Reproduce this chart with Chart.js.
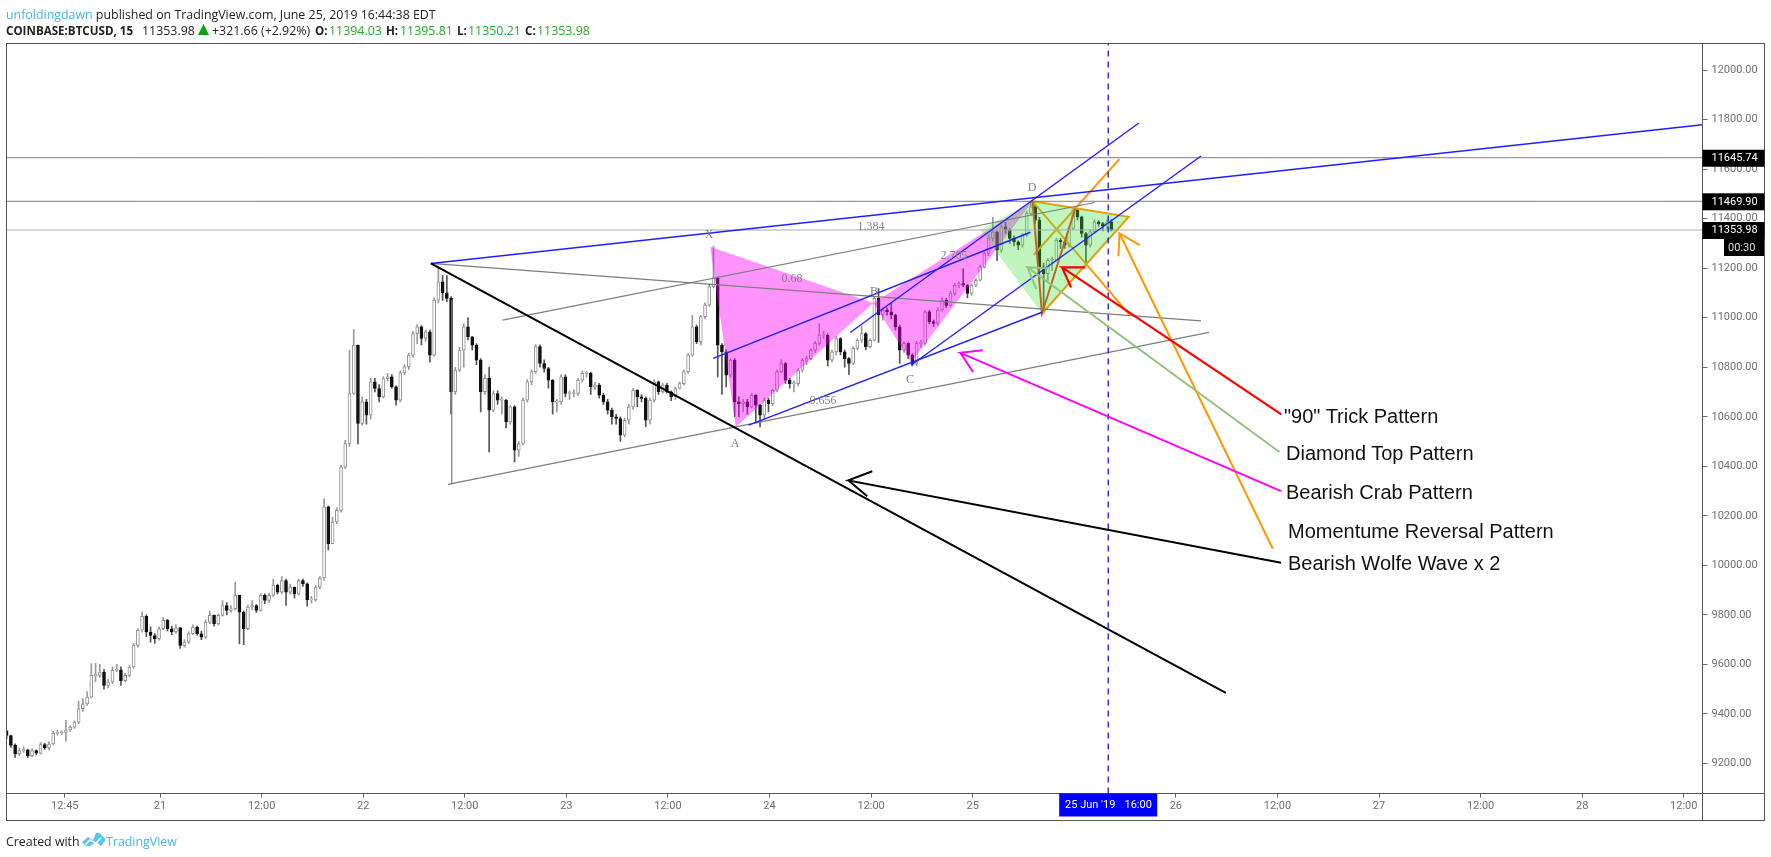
<!DOCTYPE html>
<html><head><meta charset="utf-8">
<script src="https://cdn.jsdelivr.net/npm/chart.js@4"></script>
<style>
html,body{margin:0;padding:0;background:#fff;width:1771px;height:857px;overflow:hidden}
#wrap{position:relative;width:1771px;height:857px}
canvas{position:absolute;left:0;top:0}
.t{position:absolute;white-space:pre;line-height:1;z-index:2}
.h{font:12.4px "Open Sans",sans-serif;color:#222}
.b{font-weight:700;font-size:11.6px}
.g{color:#22ab22}
.s{font:12px "Liberation Serif",serif;color:#808080;transform:translate(-50%,-50%)}
.p{font:20px "Liberation Sans",sans-serif;color:#111}
</style></head><body><div id="wrap">
<canvas id="c" width="1771" height="857"></canvas>
<div class="t h" style="left:6px;top:6px"><span style="color:#47b4e6">unfoldingdawn</span> published on TradingView.com, June 25, 2019 16:44:38 EDT</div>
<div class="t h b" style="left:6px;top:23px">COINBASE:BTCUSD, 15</div>
<div class="t h" style="left:142px;top:22px">11353.98</div>
<svg style="position:absolute;left:198px;top:24px;z-index:2" width="11" height="11"><polygon points="5.5,0 11,11 0,11" fill="#0aa50a"/></svg>
<div class="t h" style="left:212px;top:22px">+321.66 (+2.92%)</div>
<div class="t h b" style="left:315px;top:23px">O:</div><div class="t h g" style="left:329px;top:22px">11394.03</div>
<div class="t h b" style="left:386px;top:23px">H:</div><div class="t h g" style="left:400px;top:22px">11395.81</div>
<div class="t h b" style="left:457px;top:23px">L:</div><div class="t h g" style="left:468px;top:22px">11350.21</div>
<div class="t h b" style="left:525px;top:23px">C:</div><div class="t h g" style="left:537px;top:22px">11353.98</div>
<div class="t s" style="left:709px;top:234px">X</div>
<div class="t s" style="left:792px;top:278px">0.68</div>
<div class="t s" style="left:874px;top:291px">B</div>
<div class="t s" style="left:871px;top:226px">1.384</div>
<div class="t s" style="left:954px;top:255px">2.705</div>
<div class="t s" style="left:735px;top:443px">A</div>
<div class="t s" style="left:910px;top:379px">C</div>
<div class="t s" style="left:823px;top:400px">0.656</div>
<div class="t s" style="left:1032px;top:187px">D</div>
<div class="t p" style="left:1284px;top:405px">"90" Trick Pattern</div>
<div class="t p" style="left:1286px;top:442px">Diamond Top Pattern</div>
<div class="t p" style="left:1286px;top:481px">Bearish Crab Pattern</div>
<div class="t p" style="left:1288px;top:520px">Momentume Reversal Pattern</div>
<div class="t p" style="left:1288px;top:552px">Bearish Wolfe Wave x 2</div>
<div class="t h" style="left:6px;top:833px">Created with</div>
<svg style="position:absolute;left:82px;top:832px;z-index:2" width="24" height="15" viewBox="0 0 24 15"><path d="M0 10 L6 5 L11 8 L14 1 Q18 0 20 4 Q24 6 23 9 L19 14 L14 10 L8 14 L3 14 Z" fill="#5cc3ec"/><path d="M3 13 L8 8 L14 11 L19 6" stroke="#fff" stroke-width="1.6" fill="none"/></svg>
<div class="t h" style="left:106px;top:833px;color:#47b4e6">TradingView</div>
</div>
<script>
const firstOpen = 9330;
const closes = [
9313,9273,9239,9252,9255,9232,9252,9242,9277,9263,
9279,9322,9325,9326,9336,9347,9367,9421,9441,9468,
9556,9556,9569,9515,9529,9576,9578,9535,9556,9589,
9677,9738,9794,9731,9717,9704,9744,9778,9744,9731,
9748,9677,9690,9724,9751,9724,9710,9771,9798,9764,
9798,9838,9818,9825,9879,9811,9744,9832,9838,9818,
9879,9859,9879,9919,9892,9939,9892,9912,9885,9939,
9926,9861,9861,9912,9949,10236,10088,10175,10222,10397,
10492,10694,10889,10573,10660,10606,10741,10714,10680,10754,
10761,10721,10667,10777,10802,10849,10936,10963,10916,10943,
10849,11071,11145,11100,11078,10701,10788,10869,10963,10923,
10889,10829,10701,10755,10627,10694,10667,10667,10579,10640,
10465,10492,10667,10741,10782,10883,10815,10795,10748,10660,
10660,10761,10694,10694,10694,10748,10775,10775,10721,10728,
10687,10660,10627,10600,10593,10526,10586,10640,10707,10680,
10674,10586,10667,10741,10701,10728,10701,10680,10714,10734,
10782,10849,10963,10903,11004,11051,11125,11159,10889,10862,
10768,10829,10660,10653,10660,10640,10687,10647,10606,10667,
10653,10707,10782,10815,10748,10734,10734,10788,10829,10835,
10869,10896,10930,10930,10829,10862,10916,10862,10835,10815,
10876,10909,10936,10883,10909,11078,11011,11031,11024,11011,
10963,10869,10896,10849,10815,10896,10896,11024,10984,10977,
11031,11071,11050,11098,11131,11138,11131,11098,11131,11151,
11205,11259,11320,11347,11273,11367,11353,11320,11306,11293,
11333,11421,11448,11394,11205,11178,11232,11232,11313,11306,
11293,11360,11434,11407,11340,11293,11347,11387,11380,11370,11387,11353.98];
const highs = [
9335,9315,9280,9262,9268,9258,9260,9255,9285,9282,
9288,9330,9335,9332,9374,9352,9372,9452,9462,9490,
9603,9605,9600,9580,9540,9590,9600,9590,9565,9595,
9685,9745,9812,9800,9752,9725,9752,9790,9782,9755,
9760,9750,9700,9732,9760,9755,9735,9780,9815,9800,
9803,9858,9850,9838,9933,9880,9815,9840,9858,9842,
9885,9885,9888,9945,9925,9955,9945,9925,9912,9945,
9945,9930,9875,9918,9955,10270,10240,10195,10232,10405,
10505,10869,10952,10889,10680,10670,10755,10755,10730,10762,
10775,10770,10725,10785,10810,10856,10945,10972,10968,10950,
10950,11080,11199,11170,11170,11085,10800,10880,10975,11000,
10925,10895,10835,10770,10800,10705,10705,10680,10670,10645,
10645,10500,10675,10750,10790,10890,10890,10830,10800,10750,
10670,10770,10770,10705,10710,10755,10785,10782,10780,10740,
10735,10695,10670,10635,10610,10600,10595,10650,10715,10710,
10690,10680,10675,10750,10745,10735,10735,10705,10720,10740,
10790,10855,11010,10970,11010,11060,11135,11289,11165,10895,
10870,10835,10835,10680,10670,10670,10695,10690,10650,10675,
10675,10712,10790,10830,10820,10755,10745,10795,10835,10845,
10875,10905,10975,10945,10935,10870,10925,10920,10870,10840,
10882,10915,10965,10940,10915,11085,11118,11040,11040,11058,
11015,10970,10905,10900,10855,10905,10910,11030,11030,10990,
11040,11080,11078,11105,11140,11145,11198,11135,11138,11158,
11212,11265,11335,11405,11350,11375,11385,11360,11330,11310,
11340,11430,11468,11455,11405,11220,11240,11245,11320,11320,
11312,11368,11440,11438,11410,11345,11355,11395,11392,11385,11395,11395.81];
const lows = [
9300,9265,9225,9232,9245,9225,9228,9235,9238,9258,
9255,9275,9315,9318,9290,9330,9342,9360,9410,9435,
9465,9530,9548,9500,9505,9522,9570,9515,9530,9550,
9585,9670,9730,9712,9690,9685,9698,9740,9735,9720,
9725,9665,9670,9685,9720,9718,9700,9705,9765,9755,
9760,9795,9800,9810,9820,9683,9680,9740,9820,9810,
9815,9845,9850,9875,9885,9885,9838,9885,9868,9880,
9915,9835,9848,9855,9905,9940,10062,10090,10168,10215,
10390,10480,10690,10490,10565,10570,10590,10700,10660,10675,
10745,10715,10647,10660,10770,10790,10840,10895,10890,10905,
10820,10845,11060,11070,11065,10610,10690,10782,10800,10910,
10870,10810,10620,10690,10458,10620,10650,10610,10555,10570,
10418,10440,10485,10660,10730,10775,10800,10780,10715,10610,
10620,10650,10680,10670,10680,10685,10740,10760,10690,10710,
10675,10650,10610,10570,10570,10500,10520,10570,10630,10640,
10660,10560,10570,10660,10690,10695,10695,10665,10670,10712,
10728,10775,10845,10895,10890,10995,11045,11120,10761,10690,
10720,10760,10600,10600,10620,10610,10635,10575,10559,10590,
10620,10645,10700,10778,10735,10715,10700,10725,10780,10810,
10830,10860,10888,10915,10805,10820,10850,10850,10800,10770,
10810,10870,10900,10870,10878,10905,10900,10990,11010,10995,
10950,10815,10860,10835,10805,10805,10880,10890,10975,10965,
10970,11025,11040,11045,11090,11120,11125,11080,11090,11125,
11148,11200,11250,11310,11230,11265,11340,11300,11290,11275,
11285,11328,11415,11380,11151,11020,11150,11190,11228,11280,
11280,11285,11355,11395,11325,11212,11285,11340,11370,11350,11358,11350.21];

const firstBarDay = 20.245;      // 20 Jun, about 05:50
const barStepDays = 1/48;        // plotted every 30 minutes
const xTickValues = [20.53125,21,21.5,22,22.5,23,23.5,24,24.5,25,26,26.5,27,27.5,28,28.5];
const xTickLabels = ["12:45","21","12:00","22","12:00","23","12:00","24","12:00","25","26","12:00","27","12:00","28","12:00"];
const yTickValues = [12000,11800,11600,11400,11200,11000,10800,10600,10400,10200,10000,9800,9600,9400,9200];
const levels = [11645.74,11469.90,11353.98];
const cursorDay = 25.667;

const wolfeUpper = [[22.333,11219],[28.5923,11779]];
const wolfeGray = [[22.333,11219],[26.124,10987]];
const wolfeBlack = [[22.333,11219],[26.246,9485]];
const wolfeVertical = [[22.436,11071],[22.436,10327]];
const wolfeLower = [[22.417,10327],[26.163,10941]];
const channelGray = [[22.686,10990],[25.600,11465]];
const blueA = [[23.723,10836],[25.284,11345]];
const blueB = [[24.397,10940],[25.818,11786]];
const blueC = [[24.696,10808],[26.124,11653]];
const blueD = [[23.897,10566],[25.341,11022]];
const crabLeft = [[23.708,11286],[24.511,11059],[23.834,10559],[23.708,11286]];
const crabRight = [[24.511,11059],[24.698,10820],[25.295,11470],[24.511,11059]];
const diamond = [[25.295,11470],[25.768,11407],[25.341,11017],[25.037,11354],[25.295,11470]];
const momentumEdges = [[25.773,11010],[25.295,11470],[25.768,11407],[25.341,11017]];
const momentumRise = [[25.300,11253],[25.722,11640]];
const ninetyTrick = [[25.295,11470],[25.341,11017],[25.505,11441]];
const redArrow = [[26.519,10610],[25.440,11203],[25.554,11203],[25.440,11203],[25.484,11122]];
const greenArrow = [[26.510,10458],[25.270,11203],[25.372,11200],[25.270,11203],[25.313,11115]];
const magentaArrow = [[26.518,10300],[24.939,10858],[25.049,10869],[24.939,10858],[25.002,10781]];
const orangeArrow = [[26.477,10067],[25.723,11340],[25.822,11293],[25.723,11340],[25.717,11248]];
const blackArrow = [[26.518,10011],[24.388,10343],[24.506,10380],[24.388,10343],[24.481,10279]];

const barDays = closes.map((_, i) => firstBarDay + i * barStepDays);
const opens = closes.map((_, i) => i ? closes[i-1] : firstOpen);
const isUp = i => closes[i] >= opens[i];
const pts = a => a.map(p => ({x:p[0], y:p[1]}));
const line = (a,color,w,order,extra) => Object.assign({type:'scatter',showLine:true,data:pts(a),borderColor:color,borderWidth:w,pointRadius:0,order,fill:false,tension:0},extra||{});
const poly = (a,color,order) => ({type:'scatter',showLine:true,data:pts(a),borderWidth:0,borderColor:'rgba(0,0,0,0)',backgroundColor:color,pointRadius:0,fill:'shape',order,tension:0});

const xMin = 20.2442, xMax = 28.5923, yMin = 9079, yMax = 12107;
const AXIS = '#666', TXT = '#6f6f6f', BLUE = '#2020ff', ORANGE = '#ff9800';

const frame = {id:'frame',
  afterDraw(ch){
    const c = ch.ctx, a = ch.chartArea, y = ch.scales.y, x = ch.scales.x;
    c.save();
    c.strokeStyle = '#555'; c.lineWidth = 1;
    c.strokeRect(6.5,43.5,1758,777);
    c.beginPath(); c.moveTo(6.5,a.bottom); c.lineTo(1764.5,a.bottom); c.moveTo(a.right,43.5); c.lineTo(a.right,820.5); c.stroke();
    c.textBaseline = 'middle'; c.font = '11px Roboto';
    const tag = (v,txt,col) => {
      const py = y.getPixelForValue(v);
      c.fillStyle = '#000'; c.fillRect(a.right,py-8,62,17);
      c.fillStyle = col; c.fillText(txt,1711.5,py+0.5);
    };
    tag(levels[0],'11645.74','#fff');
    tag(levels[1],'11469.90','#fff');
    tag(levels[2],'11353.98','#fff');
    const py = y.getPixelForValue(levels[2]);
    c.fillStyle = '#000'; c.fillRect(1724,py+9,40,17);
    c.fillStyle = '#ddd'; c.fillText('00:30',1728,py+18);
    const cx = x.getPixelForValue(cursorDay);
    c.fillStyle = '#0000ff'; c.fillRect(cx-49,a.bottom,98,23);
    c.fillStyle = '#fff'; c.textAlign='center';
    c.fillText("25 Jun '19",cx-18,a.bottom+12); c.fillText('16:00',cx+30,a.bottom+12);
    c.restore();
  }};

new Chart(document.getElementById('c'),{
  type:'bar',
  plugins:[frame],
  data:{datasets:[
    {label:'wicks',data:barDays.map((d,i)=>({x:d,y:[lows[i],highs[i]]})),barThickness:1,grouped:false,
     backgroundColor:c=>isUp(c.dataIndex)?'#9a9a9a':'#555',order:20},
    {label:'bodies',data:barDays.map((d,i)=>({x:d,y:[opens[i],closes[i]]})),barThickness:3,grouped:false,minBarLength:1,
     backgroundColor:c=>isUp(c.dataIndex)?'#fff':'#111',
     borderColor:c=>isUp(c.dataIndex)?'#8f8f8f':'#111',borderWidth:1,borderSkipped:false,order:19},
    line(momentumEdges,ORANGE,2,17),
    line(momentumRise,ORANGE,2,17),
    line(ninetyTrick,'#ff2a10',2,16),
    poly(crabLeft,'rgba(255,0,255,0.42)',15),
    poly(crabRight,'rgba(255,0,255,0.42)',15),
    poly(diamond,'rgba(60,225,60,0.32)',14),
    line([[xMin,levels[0]],[xMax,levels[0]]],'#7d7d7d',1,13),
    line([[xMin,levels[1]],[xMax,levels[1]]],'#7d7d7d',1,13),
    line([[xMin,levels[2]],[xMax,levels[2]]],'#ababab',1,13),
    line(wolfeGray,'#7d7d7d',1.2,12),
    line(wolfeVertical,'#7d7d7d',1.2,12),
    line(wolfeLower,'#7d7d7d',1.2,12),
    line(channelGray,'#7d7d7d',1.2,12),
    line(wolfeUpper,BLUE,1.5,11),
    line(blueA,BLUE,1.4,11),
    line(blueB,BLUE,1.4,11),
    line(blueC,BLUE,1.4,11),
    line(blueD,BLUE,1.4,11),
    line(wolfeBlack,'#000',2,10),
    line([[cursorDay,yMin],[cursorDay,yMax]],'#1515e8',1.3,9,{borderDash:[6,5]}),
    line(redArrow,'#ff0000',2.2,6),
    line(greenArrow,'#93c47d',2,6),
    line(magentaArrow,'#ff00ff',2,6),
    line(orangeArrow,ORANGE,2,6),
    line(blackArrow,'#000',2,6)
  ]},
  options:{
    responsive:false,animation:false,
    devicePixelRatio:1,
    layout:{padding:{left:6.5,top:43.5,right:6.5,bottom:36}},
    plugins:{legend:{display:false},tooltip:{enabled:false}},
    scales:{
      x:{type:'linear',min:xMin,max:xMax,offset:false,
        afterBuildTicks:s=>{s.ticks=xTickValues.map(v=>({value:v}))},
        afterFit:s=>{s.height=27.5},
        grid:{display:true,offset:false,drawOnChartArea:false,drawTicks:true,tickLength:4,tickColor:AXIS},
        border:{display:true,color:AXIS},
        ticks:{autoSkip:false,maxRotation:0,color:TXT,font:{family:'Roboto',size:11},padding:2,
          callback:(v,i)=>xTickLabels[i]}},
      y:{type:'linear',position:'right',min:yMin,max:yMax,
        afterBuildTicks:s=>{s.ticks=yTickValues.map(v=>({value:v}))},
        afterFit:s=>{s.width=62},
        grid:{display:true,offset:false,drawOnChartArea:false,drawTicks:true,tickLength:5,tickColor:AXIS},
        border:{display:true,color:AXIS},
        ticks:{autoSkip:false,color:TXT,font:{family:'Roboto',size:11},padding:4,
          callback:v=>v.toFixed(2)}}
    }
  }
});
</script></body></html>
